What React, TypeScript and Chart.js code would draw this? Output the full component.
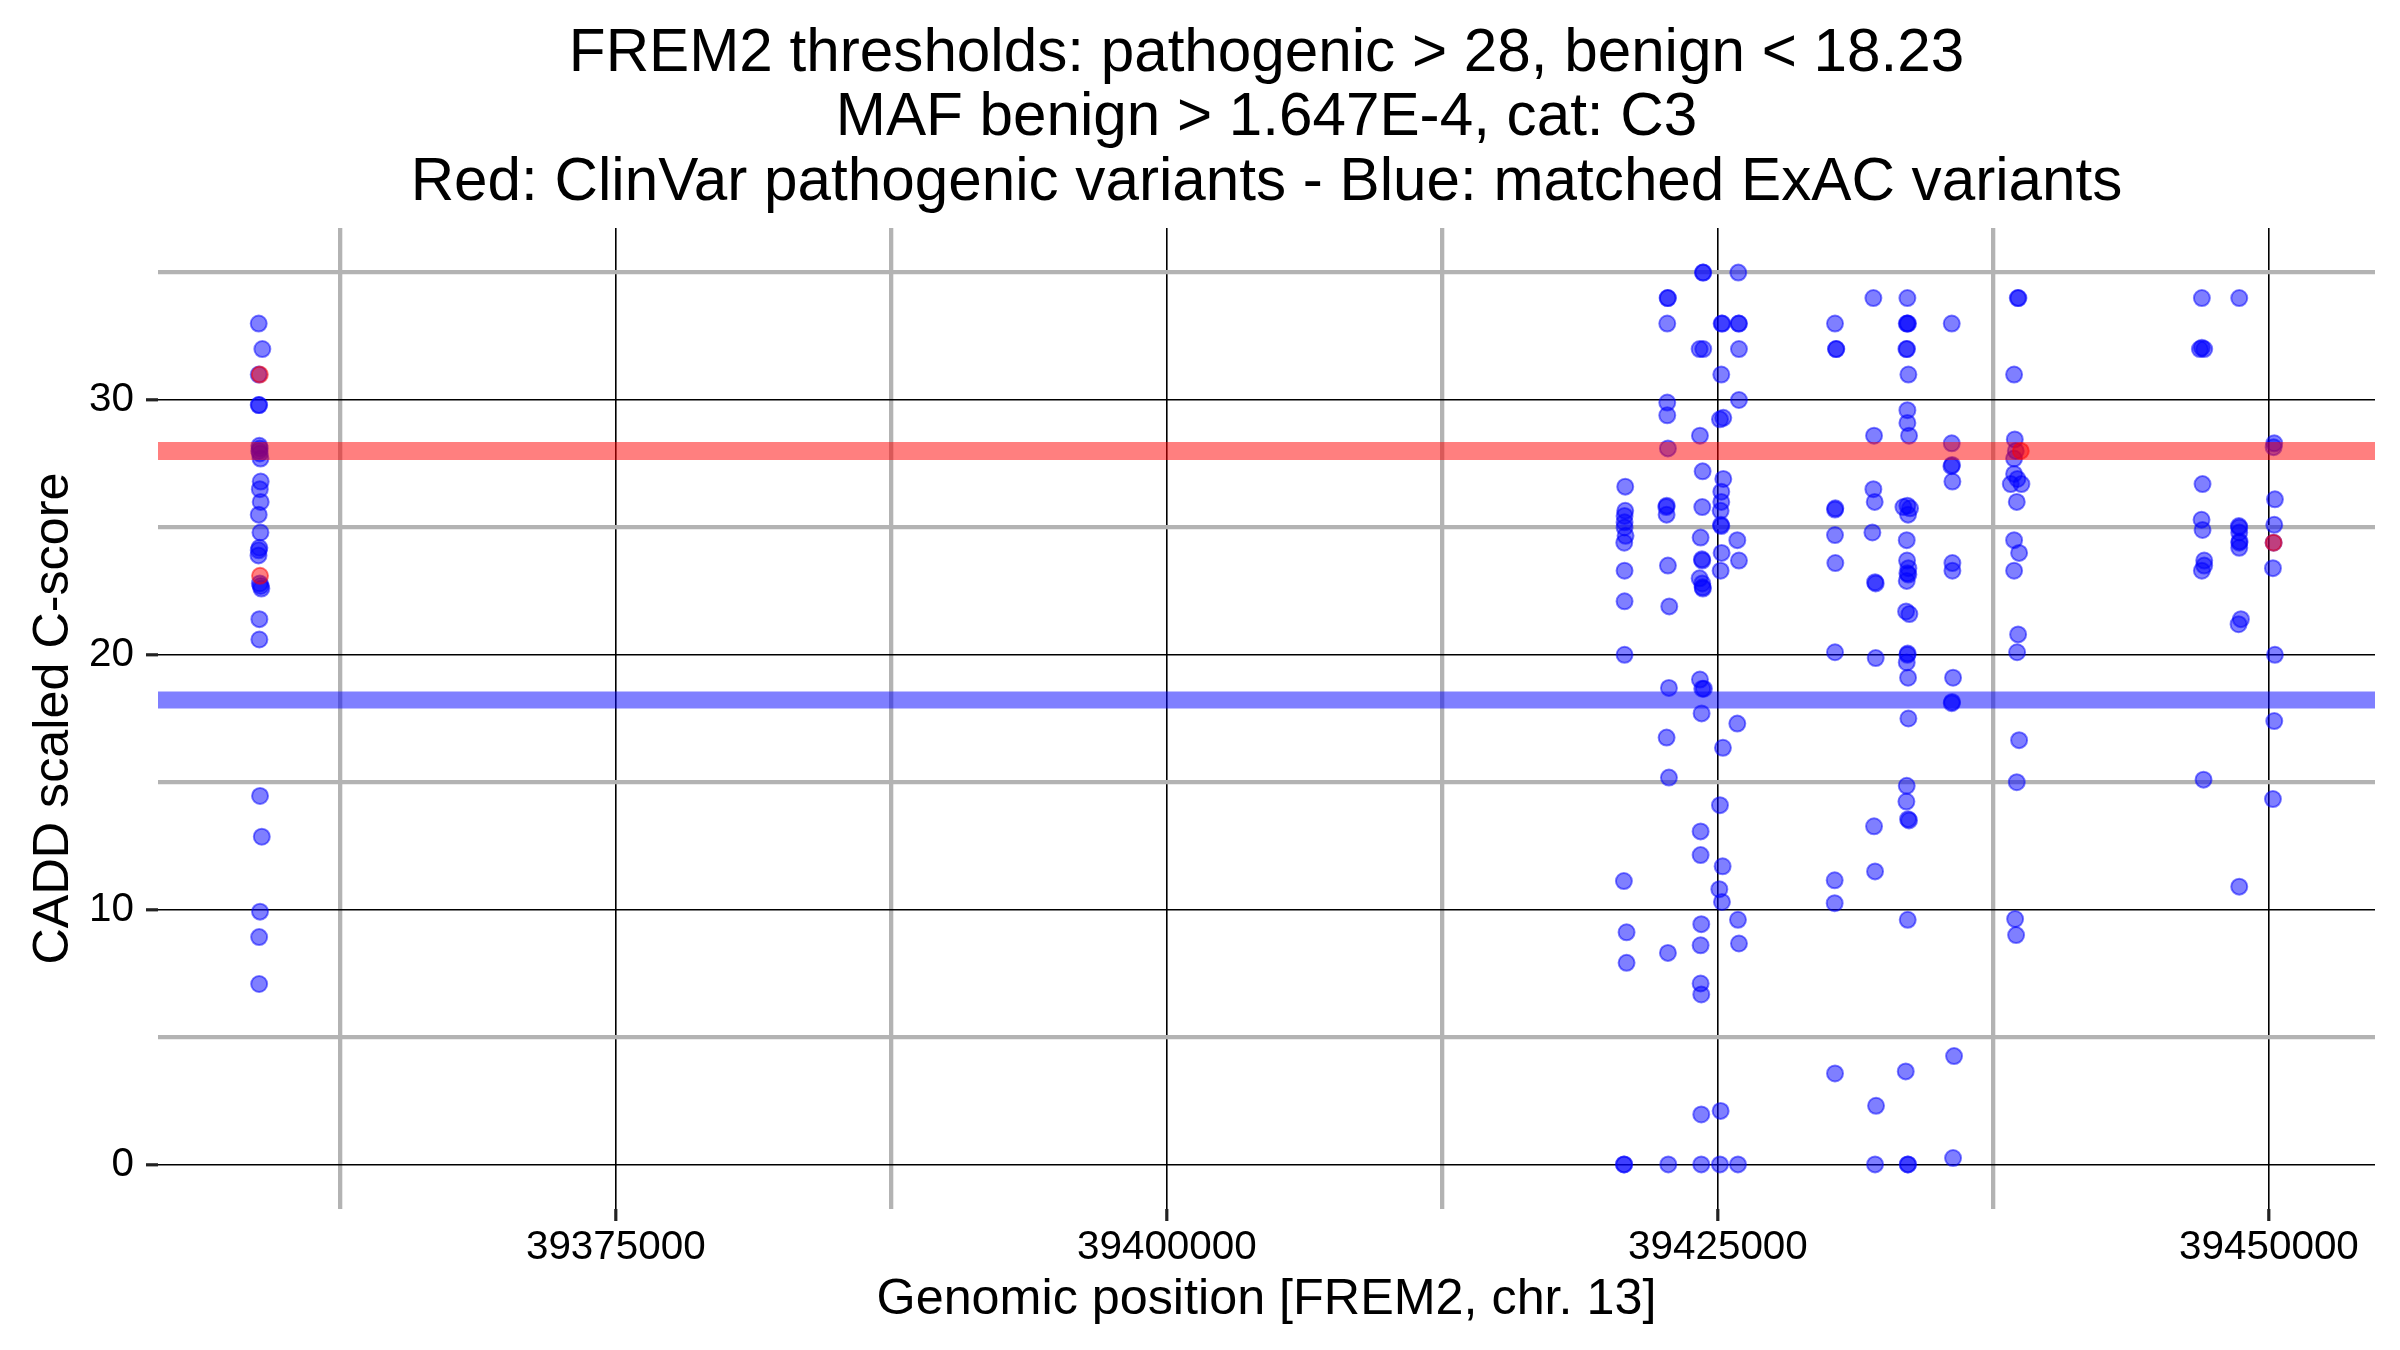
import React, { useEffect, useRef } from 'react';
import { Chart, registerables } from 'chart.js';

Chart.register(...registerables);

const FONT = "'Liberation Sans', Arial, Helvetica, sans-serif";

const TITLE_LINES = [
  'FREM2 thresholds: pathogenic > 28, benign < 18.23',
  'MAF benign > 1.647E-4, cat: C3',
  'Red: ClinVar pathogenic variants - Blue: matched ExAC variants',
];
const X_TITLE = 'Genomic position [FREM2, chr. 13]';
const Y_TITLE = 'CADD scaled C-score';

const X_RANGE = [39354231, 39454810];
const Y_RANGE = [-1.75, 36.75];
const X_TICKS = [39362500, 39375000, 39387500, 39400000, 39412500, 39425000, 39437500, 39450000];
const X_LABELED = [39375000, 39400000, 39425000, 39450000];
const Y_TICKS = [0, 5, 10, 15, 20, 25, 30, 35];
const Y_LABELED = [0, 10, 20, 30];

const PATHOGENIC_THRESHOLD = 28;
const BENIGN_THRESHOLD = 18.23;

// ExAC matched variants: [genomic position, CADD scaled score]
const exacLeft: [number, number][] = [
  [39358800, 33.0], [39358965, 32.0], [39358800, 31.0], [39358800, 29.8], [39358820, 29.8],
  [39358830, 28.2], [39358850, 28.1], [39358820, 28.0], [39358850, 27.9], [39358880, 27.7],
  [39358890, 26.8], [39358850, 26.5], [39358890, 26.0], [39358800, 25.5], [39358880, 24.8],
  [39358830, 24.2], [39358800, 24.1], [39358790, 23.9], [39358850, 22.8], [39358890, 22.7],
  [39358920, 22.6], [39358830, 21.4], [39358830, 20.6], [39358860, 14.46], [39358940, 12.86],
  [39358860, 9.92], [39358820, 8.92], [39358820, 7.08],
];
const exacA: [number, number][] = [
  [39420795, 26.6], [39420795, 25.65], [39420765, 25.45], [39420765, 25.2], [39420765, 25.0],
  [39420810, 24.67], [39420750, 24.4], [39420765, 23.3], [39420765, 22.1], [39420765, 20.0],
  [39420735, 11.12], [39420856, 9.11], [39420856, 7.91], [39420735, 0], [39420750, 0],
];
const exacB: [number, number][] = [
  [39422732, 34], [39422717, 34], [39422702, 33], [39422702, 29.9], [39422702, 29.4],
  [39422732, 28.1], [39422657, 25.8], [39422680, 25.85], [39422672, 25.5], [39422732, 23.5],
  [39422793, 21.9], [39422778, 18.7], [39422672, 16.75], [39422778, 15.18], [39422732, 8.3],
  [39422748, 0],
];
const exacC: [number, number][] = [
  [39424336, 35], [39424320, 35], [39424170, 32], [39424336, 32], [39424185, 28.6],
  [39424306, 27.2], [39424290, 25.8], [39424215, 24.6], [39424290, 23.7], [39424275, 23.75],
  [39424170, 23.0], [39424290, 22.8], [39424320, 22.6], [39424306, 22.65], [39424185, 19.03],
  [39424290, 18.67], [39424366, 18.67], [39424260, 17.7], [39424215, 13.07], [39424215, 12.14],
  [39424245, 9.43], [39424215, 8.6], [39424215, 7.1], [39424245, 6.67], [39424245, 1.96],
  [39424245, 0],
];
const exacD: [number, number][] = [
  [39425168, 33], [39425198, 33], [39425153, 31.0], [39425093, 29.24], [39425244, 29.3],
  [39425244, 26.9], [39425153, 26.4], [39425153, 26.0], [39425123, 25.65], [39425138, 25.1],
  [39425153, 25.05], [39425168, 24.0], [39425123, 23.3], [39425228, 16.35], [39425093, 14.1],
  [39425214, 11.7], [39425063, 10.8], [39425183, 10.3], [39425123, 2.1], [39425093, 0],
];
const exacE: [number, number][] = [
  [39425925, 35], [39425955, 33], [39425940, 33], [39425955, 32], [39425955, 30],
  [39425880, 24.5], [39425955, 23.7], [39425880, 17.3], [39425910, 9.6], [39425955, 8.67],
  [39425910, 0],
];
const exacF: [number, number][] = [
  [39430312, 33], [39430372, 32], [39430357, 32], [39430312, 25.7], [39430327, 25.75],
  [39430312, 24.7], [39430327, 23.6], [39430312, 20.1], [39430297, 11.15], [39430297, 10.25],
  [39430312, 3.57],
];
const exacG: [number, number][] = [
  [39432053, 34], [39432083, 28.6], [39432053, 26.5], [39432113, 26.0], [39432008, 24.8],
  [39432159, 22.8], [39432129, 22.85], [39432159, 19.87], [39432083, 13.27], [39432129, 11.5],
  [39432174, 2.3], [39432129, 0],
];
const exacH: [number, number][] = [
  [39433596, 34], [39433566, 33], [39433596, 33], [39433626, 33], [39433551, 32],
  [39433581, 32], [39433641, 31], [39433596, 29.6], [39433596, 29.1], [39433671, 28.6],
  [39433415, 25.8], [39433596, 25.85], [39433717, 25.75], [39433626, 25.5], [39433566, 24.5],
  [39433581, 23.7], [39433641, 23.4], [39433596, 23.2], [39433641, 23.15], [39433566, 22.9],
  [39433536, 21.7], [39433686, 21.6], [39433596, 20.0], [39433611, 20.05], [39433566, 19.7],
  [39433626, 19.1], [39433641, 17.5], [39433566, 14.86], [39433551, 14.24], [39433626, 13.55],
  [39433671, 13.5], [39433611, 9.6], [39433521, 3.65], [39433611, 0], [39433626, 0],
];
const exacI: [number, number][] = [
  [39435608, 33], [39435608, 28.3], [39435593, 27.4], [39435623, 27.45], [39435638, 26.8],
  [39435638, 23.6], [39435638, 23.3], [39435668, 19.1], [39435608, 18.1], [39435623, 18.15],
  [39435713, 4.25], [39435668, 0.25],
];
const exacJ: [number, number][] = [
  [39438634, 34], [39438604, 34], [39438437, 31], [39438468, 28.45], [39438513, 28.0],
  [39438437, 27.7], [39438437, 27.1], [39438588, 26.9], [39438286, 26.7], [39438770, 26.7],
  [39438558, 26.0], [39438437, 24.5], [39438664, 24.0], [39438437, 23.3], [39438619, 20.8],
  [39438573, 20.1], [39438664, 16.65], [39438558, 15.0], [39438483, 9.63], [39438528, 9.0],
];
const exacK: [number, number][] = [
  [39446956, 34], [39446865, 32], [39447062, 32], [39446956, 32.05], [39446986, 26.7],
  [39446941, 25.3], [39446986, 24.9], [39447062, 23.7], [39447062, 23.5], [39446956, 23.3],
  [39447032, 15.1],
];
const exacL: [number, number][] = [
  [39448651, 34], [39448651, 25.0], [39448636, 25.05], [39448651, 24.8], [39448651, 24.4],
  [39448666, 24.45], [39448651, 24.2], [39448727, 21.4], [39448621, 21.2], [39448651, 10.9],
];
const exacM: [number, number][] = [
  [39450240, 28.3], [39450210, 28.15], [39450270, 26.1], [39450240, 25.1], [39450210, 24.4],
  [39450180, 23.4], [39450270, 20.0], [39450240, 17.4], [39450180, 14.34],
];

// ClinVar pathogenic variants
const clinvar: [number, number][] = [
  [39358850, 31.0], [39358860, 23.1], [39438740, 28.0], [39450210, 24.4],
];

const toPoints = (arr: [number, number][]) => arr.map(([x, y]) => ({ x, y }));

export default function App() {
  const ref = useRef<HTMLCanvasElement>(null);

  useEffect(() => {
    if (!ref.current) return;
    Chart.defaults.font.family = FONT;
    const exac = [
      ...exacLeft, ...exacA, ...exacB, ...exacC, ...exacD, ...exacE, ...exacF,
      ...exacG, ...exacH, ...exacI, ...exacJ, ...exacK, ...exacL, ...exacM,
    ];
    const isMajorX = (v: number) => X_LABELED.includes(v);
    const isMajorY = (v: number) => Y_LABELED.includes(v);

    const chart = new Chart(ref.current, {
      type: 'scatter',
      data: {
        datasets: [
          {
            type: 'line',
            label: 'pathogenic threshold',
            data: X_RANGE.map((x) => ({ x, y: PATHOGENIC_THRESHOLD })),
            borderColor: 'rgba(255,0,0,0.5)',
            borderWidth: 18,
            borderCapStyle: 'butt',
            pointRadius: 0,
            fill: false,
            order: 0,
          } as any,
          {
            type: 'line',
            label: 'benign threshold',
            data: X_RANGE.map((x) => ({ x, y: BENIGN_THRESHOLD })),
            borderColor: 'rgba(0,0,255,0.5)',
            borderWidth: 17,
            borderCapStyle: 'butt',
            pointRadius: 0,
            fill: false,
            order: 1,
          } as any,
          {
            type: 'scatter',
            label: 'ClinVar pathogenic',
            data: toPoints(clinvar),
            backgroundColor: 'rgba(255,0,0,0.5)',
            borderColor: 'rgba(255,0,0,0.5)',
            borderWidth: 2,
            pointRadius: 8,
            order: 2,
          },
          {
            type: 'scatter',
            label: 'matched ExAC',
            data: toPoints(exac),
            backgroundColor: 'rgba(0,0,255,0.5)',
            borderColor: 'rgba(0,0,255,0.5)',
            borderWidth: 2,
            pointRadius: 8,
            order: 3,
          },
        ],
      },
      options: {
        animation: false,
        responsive: false,
        devicePixelRatio: 1,
        layout: { padding: { left: 0, right: 25, top: 0, bottom: 0 } },
        plugins: {
          legend: { display: false },
          tooltip: { enabled: false },
          title: {
            display: true,
            text: TITLE_LINES,
            fullSize: false,
            color: '#000',
            font: { family: FONT, size: 60.2, weight: 'normal', lineHeight: 64.5 / 60.2 },
            padding: { top: 21.75, bottom: 12.75 },
          },
        },
        scales: {
          x: {
            type: 'linear',
            min: X_RANGE[0],
            max: X_RANGE[1],
            afterBuildTicks: (scale: any) => {
              scale.ticks = X_TICKS.map((value) => ({ value }));
            },
            afterFit: (scale: any) => {
              scale.height = 141;
            },
            border: { display: false },
            grid: {
              color: (ctx: any) => (ctx.tick && isMajorX(ctx.tick.value) ? '#000000' : '#b3b3b3'),
              lineWidth: (ctx: any) => (ctx.tick && isMajorX(ctx.tick.value) ? 1.6 : 4.3),
              tickColor: (ctx: any) => (ctx.tick && isMajorX(ctx.tick.value) ? '#222222' : 'rgba(0,0,0,0)'),
              tickWidth: 3.2,
              tickLength: 12,
              drawTicks: true,
            },
            ticks: {
              autoSkip: false,
              maxRotation: 0,
              minRotation: 0,
              padding: 3,
              color: '#000',
              font: { family: FONT, size: 40.4 },
              callback: (v: any) => (isMajorX(Number(v)) ? String(v) : ''),
            },
            title: {
              display: true,
              text: X_TITLE,
              color: '#000',
              font: { family: FONT, size: 50.3 },
              padding: { top: 0, bottom: 20 },
            },
          },
          y: {
            type: 'linear',
            min: Y_RANGE[0],
            max: Y_RANGE[1],
            afterBuildTicks: (scale: any) => {
              scale.ticks = Y_TICKS.map((value) => ({ value }));
            },
            afterFit: (scale: any) => {
              scale.width = 158;
            },
            border: { display: false },
            grid: {
              color: (ctx: any) => (ctx.tick && isMajorY(ctx.tick.value) ? '#000000' : '#b3b3b3'),
              lineWidth: (ctx: any) => (ctx.tick && isMajorY(ctx.tick.value) ? 1.6 : 4.3),
              tickColor: (ctx: any) => (ctx.tick && isMajorY(ctx.tick.value) ? '#222222' : 'rgba(0,0,0,0)'),
              tickWidth: 3.2,
              tickLength: 12,
              drawTicks: true,
            },
            ticks: {
              autoSkip: false,
              padding: 12,
              color: '#000',
              font: { family: FONT, size: 40.4 },
              callback: (v: any) => (isMajorY(Number(v)) ? String(v) : ''),
            },
            title: {
              display: true,
              text: Y_TITLE,
              color: '#000',
              font: { family: FONT, size: 50.3 },
              padding: { top: 24, bottom: 0 },
            },
          },
        },
      } as any,
    });
    return () => chart.destroy();
  }, []);

  return (
    <div style={{ position: 'absolute', left: 0, top: 0, width: 2400, height: 1350, background: '#ffffff' }}>
      <canvas ref={ref} width={2400} height={1350} style={{ width: 2400, height: 1350, display: 'block' }} />
    </div>
  );
}
